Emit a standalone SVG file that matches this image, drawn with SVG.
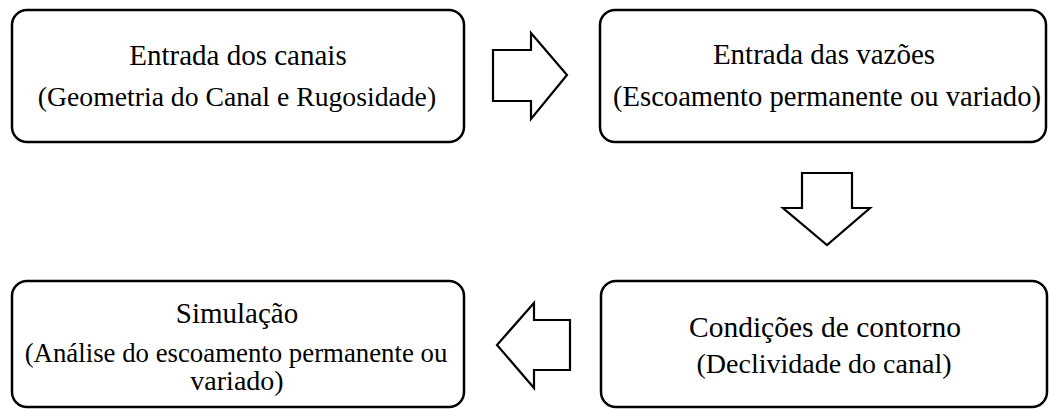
<svg xmlns="http://www.w3.org/2000/svg" width="1049" height="409" viewBox="0 0 1049 409">
<style>
.box{fill:#fff;stroke:#000;stroke-width:2.5}
.arr{fill:#fff;stroke:#000;stroke-width:2.2;stroke-linejoin:miter}
text{font-family:"Liberation Serif","Times New Roman",serif;fill:#000;text-anchor:middle}
.t{font-size:29px}
.s{font-size:28px}
</style>
<rect width="1049" height="409" fill="#fff"/>
<g id="node-entrada-canais">
<rect class="box" x="12" y="10" width="452" height="132" rx="15"/>
<text class="t" x="238" y="65">Entrada dos canais</text>
<text class="s" x="237" y="106" style="font-size:27.7px">(Geometria do Canal e Rugosidade)</text>
</g>
<g id="node-entrada-vazoes">
<rect class="box" x="600" y="10" width="446" height="132" rx="15"/>
<text class="t" x="824" y="64">Entrada das vazões</text>
<text class="s" x="827" y="106" style="font-size:28.6px">(Escoamento permanente ou variado)</text>
</g>
<g id="node-condicoes">
<rect class="box" x="601" y="281" width="446" height="126" rx="15"/>
<text class="t" x="825" y="337" style="font-size:29.5px">Condições de contorno</text>
<text class="s" x="824" y="373">(Declividade do canal)</text>
</g>
<g id="node-simulacao">
<rect class="box" x="12" y="281" width="452" height="126" rx="15"/>
<text class="t" x="237" y="323">Simulação</text>
<text class="s" x="236" y="362" style="font-size:26.8px">(Análise do escoamento permanente ou</text>
<text class="s" x="237" y="390">variado)</text>
</g>
<g id="connectors">
<polygon class="arr" points="493,50 531,50 531,33 567,75 531,119 531,101 493,101"/>
<polygon class="arr" points="802,173 852,173 852,208 870,208 827,245 783,208 802,208"/>
<polygon class="arr" points="570,320 534,320 534,303 497,345 534,388 534,370 570,370"/>
</g>
</svg>
